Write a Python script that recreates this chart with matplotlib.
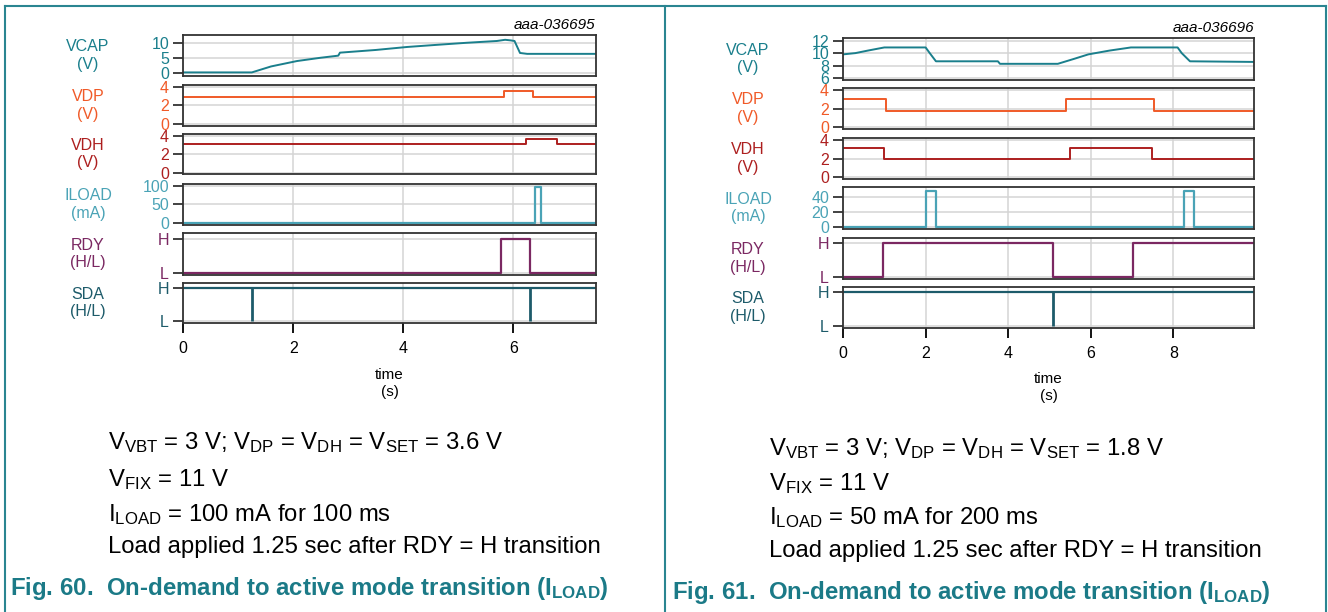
import numpy as np
import matplotlib
matplotlib.use("Agg")
import matplotlib.pyplot as plt
from matplotlib.lines import Line2D

plt.rcParams['font.family'] = ['Liberation Sans', 'DejaVu Sans']
plt.rcParams['mathtext.fontset'] = 'custom'
plt.rcParams['mathtext.rm'] = 'Liberation Sans'
plt.rcParams['mathtext.it'] = 'Liberation Sans:italic'
plt.rcParams['mathtext.bf'] = 'Liberation Sans:bold'

W, H = 1328, 612

# colours
c_vcap = '#1a7f8c'
c_vdp = '#f05a28'
c_vdh = '#ad1f1f'
c_iload = '#4aa3b6'
c_rdy = '#7b2862'
c_sda = '#1d5b6a'
c_cap = '#1b7a87'
c_frame = '#2a8591'

# ---- Fig. 60 data (left) ----
l_tmax = 7.5
l_vcap_t = [0, 1.25, 1.6, 2.07, 2.5, 2.82, 2.85, 3.5, 4.07, 4.6, 5.15, 5.7, 5.85, 5.95, 6.02, 6.12, 6.25, 7.5]
l_vcap_v = [0.3, 0.3, 2.3, 4.1, 5.2, 5.9, 6.9, 7.8, 8.8, 9.5, 10.2, 10.8, 11.2, 11.0, 10.8, 6.8, 6.5, 6.5]
l_vdp_t = [0, 5.83, 6.36]
l_vdp_v = [2.9, 3.55, 2.9]
l_vdh_t = [0, 6.22, 6.8]
l_vdh_v = [3.1, 3.7, 3.1]
l_iload_t = [0, 6.4, 6.5]
l_iload_v = [0, 98, 0]
l_rdy_t = [0, 5.77, 6.3]
l_rdy_v = [0, 1, 0]
l_sda_low = [1.25, 6.3]

# ---- Fig. 61 data (right) ----
r_tmax = 9.95
r_vcap_t = [0, 0.3, 0.6, 1.0, 2.0, 2.1, 2.25, 3.75, 3.8, 5.2, 5.6, 5.94, 6.45, 6.97, 8.1, 8.2, 8.4, 9.95]
r_vcap_v = [9.8, 10.0, 10.4, 10.9, 10.9, 10.0, 8.7, 8.7, 8.3, 8.3, 9.1, 9.8, 10.4, 10.9, 10.9, 10.0, 8.7, 8.6]
r_vdp_t = [0, 1.04, 5.4, 7.54]
r_vdp_v = [3.0, 1.75, 3.0, 1.75]
r_vdh_t = [0, 0.99, 5.5, 7.48]
r_vdh_v = [3.2, 1.93, 3.2, 1.93]
r_iload_t = [0, 2.02, 2.25, 8.26, 8.5]
r_iload_v = [0, 48, 0, 48, 0]
r_rdy_t = [0, 0.97, 5.09, 7.02]
r_rdy_v = [0, 1, 0, 1]
r_sda_low = [5.09]

fig = plt.figure(figsize=(W / 100, H / 100), dpi=100)


def add_ax(x0, x1, top, bot):
    return fig.add_axes([x0 / W, 1 - bot / H, (x1 - x0) / W, (bot - top) / H])


def px(x, y):
    return x / W, 1 - y / H


def step(t, v, tmax):
    return list(t) + [tmax], list(v) + [v[-1]]


def style(ax, col, yticks, yticklabels, ylim, xmax, bottom=False):
    ax.set_xlim(0, xmax)
    ax.set_ylim(*ylim)
    ax.set_yticks(yticks)
    ax.set_yticklabels(yticklabels, color=col, fontsize=11.5)
    ax.set_xticks([0, 2, 4, 6, 8] if xmax > 8 else [0, 2, 4, 6])
    ax.grid(True, color='#d4d4d4', lw=1.1)
    ax.set_axisbelow(True)
    for s in ax.spines.values():
        s.set_linewidth(1.3)
        s.set_color('#333333')
    ax.tick_params(axis='y', length=7, width=1.3, pad=3, colors='#333333', labelcolor=col)
    if bottom:
        ax.tick_params(axis='x', length=7, width=1.3, pad=6, labelsize=11.5)
    else:
        ax.tick_params(axis='x', length=0, labelbottom=False)


def ylab(x, ytop, ybot, txt, col):
    xx, yy = px(x, (ytop + ybot) / 2)
    fig.text(xx, yy, txt, color=col, fontsize=11.5, ha='center', va='center',
             linespacing=1.2)


def panel(x0, x1, rows, tmax, d, yl):
    names = ['VCAP\n(V)', 'VDP\n(V)', 'VDH\n(V)', 'ILOAD\n(mA)', 'RDY\n(H/L)', 'SDA\n(H/L)']
    cols = [c_vcap, c_vdp, c_vdh, c_iload, c_rdy, c_sda]
    axs = []
    for i, (top, bot) in enumerate(rows):
        ax = add_ax(x0, x1, top, bot)
        axs.append(ax)
        ylab(yl, top, bot, names[i], cols[i])
    # VCAP
    axs[0].plot(d['vcap_t'], d['vcap_v'], color=c_vcap, lw=1.4)
    style(axs[0], c_vcap, d['vcap_ticks'], [str(v) for v in d['vcap_ticks']], d['vcap_lim'], tmax)
    # VDP / VDH
    tt, vv = step(d['vdp_t'], d['vdp_v'], tmax)
    axs[1].plot(tt, vv, drawstyle='steps-post', color=c_vdp, lw=1.4)
    style(axs[1], c_vdp, [0, 2, 4], ['0', '2', '4'], d['vdp_lim'], tmax)
    tt, vv = step(d['vdh_t'], d['vdh_v'], tmax)
    axs[2].plot(tt, vv, drawstyle='steps-post', color=c_vdh, lw=1.4)
    style(axs[2], c_vdh, [0, 2, 4], ['0', '2', '4'], d['vdh_lim'], tmax)
    # ILOAD
    tt, vv = step(d['iload_t'], d['iload_v'], tmax)
    axs[3].plot(tt, vv, drawstyle='steps-post', color=c_iload, lw=1.6)
    style(axs[3], c_iload, d['iload_ticks'], [str(v) for v in d['iload_ticks']], d['iload_lim'], tmax)
    # RDY
    tt, vv = step(d['rdy_t'], d['rdy_v'], tmax)
    axs[4].plot(tt, vv, drawstyle='steps-post', color=c_rdy, lw=1.6)
    style(axs[4], c_rdy, [0, 1], ['L', 'H'], d['rdy_lim'], tmax)
    # SDA
    axs[5].plot([0, tmax], [1, 1], color=c_sda, lw=1.6)
    axs[5].vlines(d['sda_low'], 0, 1, color=c_sda, lw=2)
    style(axs[5], c_sda, [0, 1], ['L', 'H'], d['sda_lim'], tmax, bottom=True)
    return axs


left = dict(vcap_t=l_vcap_t, vcap_v=l_vcap_v, vcap_ticks=[0, 5, 10], vcap_lim=(-0.9, 12.8),
            vdp_t=l_vdp_t, vdp_v=l_vdp_v, vdp_lim=(-0.2, 4.2),
            vdh_t=l_vdh_t, vdh_v=l_vdh_v, vdh_lim=(-0.1, 4.2),
            iload_t=l_iload_t, iload_v=l_iload_v, iload_ticks=[0, 50, 100], iload_lim=(-6, 105),
            rdy_t=l_rdy_t, rdy_v=l_rdy_v, rdy_lim=(-0.05, 1.18),
            sda_low=l_sda_low, sda_lim=(-0.07, 1.16))
right = dict(vcap_t=r_vcap_t, vcap_v=r_vcap_v, vcap_ticks=[6, 8, 10, 12], vcap_lim=(5.73, 12.4),
             vdp_t=r_vdp_t, vdp_v=r_vdp_v, vdp_lim=(-0.17, 4.2),
             vdh_t=r_vdh_t, vdh_v=r_vdh_v, vdh_lim=(-0.2, 4.25),
             iload_t=r_iload_t, iload_v=r_iload_v, iload_ticks=[0, 20, 40], iload_lim=(-3, 54),
             rdy_t=r_rdy_t, rdy_v=r_rdy_v, rdy_lim=(-0.07, 1.15),
             sda_low=r_sda_low, sda_lim=(-0.06, 1.16))

rows_l = [(35, 76), (85, 126), (134, 174), (184, 225), (233, 275), (283, 323)]
rows_r = [(38, 80), (88, 129), (138, 179), (187, 229), (238, 279), (287, 328)]

panel(183, 596, rows_l, l_tmax, left, 88)
panel(843, 1254, rows_r, r_tmax, right, 748)

# axis titles and figure ids
for xc, y1, y2 in [(389.5, 375, 392), (1048.5, 379, 396)]:
    fig.text(*px(xc, y1), 'time', fontsize=11, ha='center', va='center')
    fig.text(*px(xc, y2), '(s)', fontsize=11, ha='center', va='center')
fig.text(*px(595, 29), 'aaa-036695', fontsize=11, style='italic', ha='right', va='baseline')
fig.text(*px(1254, 32), 'aaa-036696', fontsize=11, style='italic', ha='right', va='baseline')

# conditions text
cond_l = [r'V$_{\mathrm{VBT}}$ = 3 V; V$_{\mathrm{DP}}$ = V$_{\mathrm{DH}}$ = V$_{\mathrm{SET}}$ = 3.6 V',
          r'V$_{\mathrm{FIX}}$ = 11 V',
          r'I$_{\mathrm{LOAD}}$ = 100 mA for 100 ms',
          'Load applied 1.25 sec after RDY = H transition']
cond_r = [r'V$_{\mathrm{VBT}}$ = 3 V; V$_{\mathrm{DP}}$ = V$_{\mathrm{DH}}$ = V$_{\mathrm{SET}}$ = 1.8 V',
          r'V$_{\mathrm{FIX}}$ = 11 V',
          r'I$_{\mathrm{LOAD}}$ = 50 mA for 200 ms',
          'Load applied 1.25 sec after RDY = H transition']
for txt, y in zip(cond_l, [443, 480, 515, 547]):
    fig.text(*px(108, y), txt, fontsize=17.2, ha='left', va='center')
for txt, y in zip(cond_r, [449, 484, 518, 551]):
    fig.text(*px(769, y), txt, fontsize=17.2, ha='left', va='center')

fig.text(*px(10, 588), r'Fig. 60.  On-demand to active mode transition (I$_{\mathbf{LOAD}}$)',
         fontsize=17.3, weight='bold', color=c_cap, ha='left', va='center')
fig.text(*px(672, 593), r'Fig. 61.  On-demand to active mode transition (I$_{\mathbf{LOAD}}$)',
         fontsize=17.3, weight='bold', color=c_cap, ha='left', va='center')

# frame
for xs, ys in [([5, 1326], [6, 6]), ([5, 5], [6, 612]), ([665, 665], [6, 612]), ([1326, 1326], [6, 612])]:
    fig.add_artist(Line2D([x / W for x in xs], [1 - y / H for y in ys], color=c_frame, lw=1.5))

fig.savefig('out.png', dpi=100)
